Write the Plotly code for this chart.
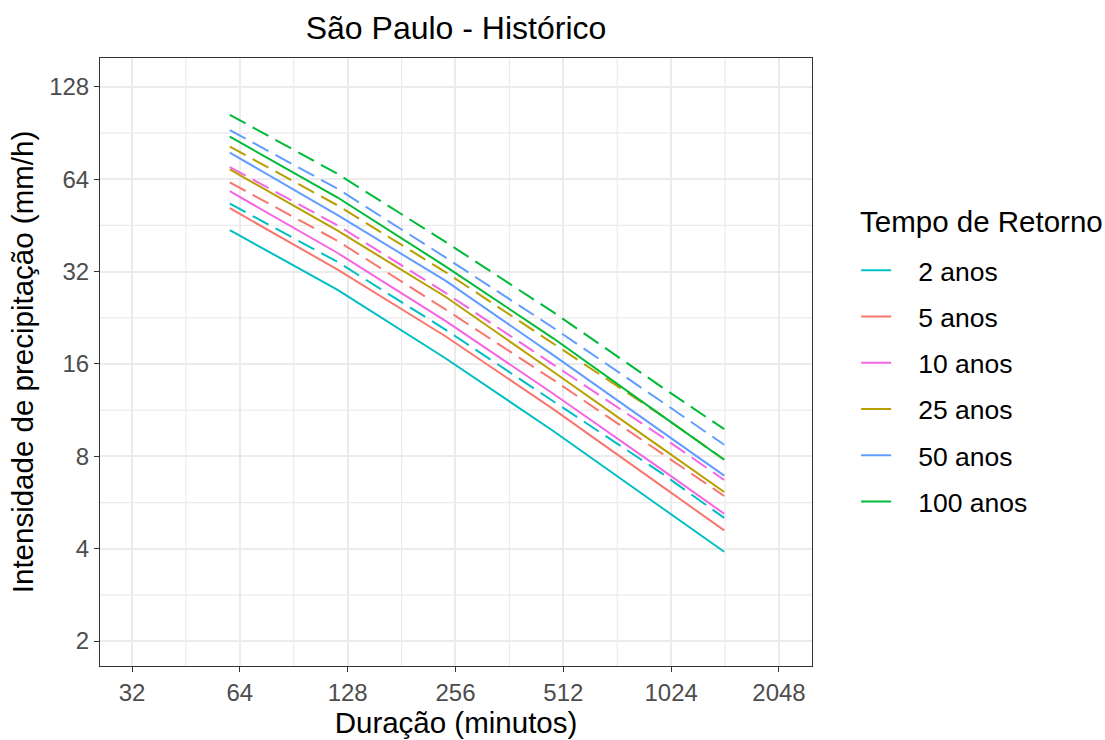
import plotly.graph_objects as go
import numpy as np

durations = [60, 120, 240, 480, 960, 1440]
periods = ["2 anos", "5 anos", "10 anos", "25 anos", "50 anos", "100 anos"]
colors = ["#00BFC4", "#F8766D", "#F564E3", "#B79F00", "#619CFF", "#00BA38"]

# solid lines
solid_2 = [43.7, 27.9, 16.7, 9.68, 5.46, 3.91]
solid_5 = [51.5, 32.5, 19.7, 11.4, 6.42, 4.59]
solid_10 = [58.5, 36.8, 22.1, 12.8, 7.27, 5.20]
solid_25 = [68.9, 43.5, 26.5, 15.1, 8.54, 6.12]
solid_50 = [78.2, 48.9, 29.9, 17.1, 9.67, 6.92]
solid_100 = [88.1, 55.8, 33.3, 19.4, 10.9, 7.80]
# dashed lines
dashed_2 = [53.3, 34.4, 20.7, 12.1, 7.07, 5.04]
dashed_5 = [62.5, 40.3, 24.1, 14.2, 8.21, 5.94]
dashed_10 = [70.1, 45.3, 27.3, 15.9, 9.30, 6.70]
dashed_25 = [81.8, 52.6, 31.9, 18.7, 10.9, 7.81]
dashed_50 = [92.6, 59.6, 35.6, 21.0, 12.1, 8.73]
dashed_100 = [103.8, 66.6, 40.0, 23.6, 13.5, 9.81]

solid = [solid_2, solid_5, solid_10, solid_25, solid_50, solid_100]
dashed = [dashed_2, dashed_5, dashed_10, dashed_25, dashed_50, dashed_100]

x_ticks = [32, 64, 128, 256, 512, 1024, 2048]
y_ticks = [2, 4, 8, 16, 32, 64, 128]

FONT = "Liberation Sans, Arial, sans-serif"
GRID = "#EBEBEB"

x_range = [1.4158, 3.4035]
y_range = [0.2198, 2.2014]

fig = go.Figure()

# minor gridlines (geometric midpoints between major ticks)
x_minor = [np.sqrt(a * b) for a, b in zip(x_ticks[:-1], x_ticks[1:])]
y_minor = [np.sqrt(a * b) for a, b in zip(y_ticks[:-1], y_ticks[1:])]
ylo, yhi = 10 ** y_range[0], 10 ** y_range[1]
xlo, xhi = 10 ** x_range[0], 10 ** x_range[1]
for xv in x_minor:
    fig.add_trace(go.Scatter(x=[xv, xv], y=[ylo, yhi], mode="lines",
                             line=dict(color=GRID, width=1.2),
                             showlegend=False, hoverinfo="skip"))
for yv in y_minor:
    fig.add_trace(go.Scatter(x=[xlo, xhi], y=[yv, yv], mode="lines",
                             line=dict(color=GRID, width=1.2),
                             showlegend=False, hoverinfo="skip"))

PAD = "\u00a0\u00a0\u00a0"
for i, (p, c) in enumerate(zip(periods, colors)):
    fig.add_trace(go.Scatter(x=durations, y=dashed[i], mode="lines",
                             line=dict(color=c, width=2, dash="18px,8px"),
                             legendgroup=p, showlegend=False, name=p))
for i, (p, c) in enumerate(zip(periods, colors)):
    fig.add_trace(go.Scatter(x=durations, y=solid[i], mode="lines",
                             line=dict(color=c, width=2),
                             legendgroup=p, showlegend=True, name=PAD + p))

axis_common = dict(
    type="log",
    showgrid=True, gridcolor=GRID, gridwidth=2,
    zeroline=False,
    showline=True, mirror=True, linecolor="#333333", linewidth=1,
    ticks="outside", ticklen=5, tickcolor="#333333", tickwidth=1,
    tickfont=dict(family=FONT, size=24, color="#4D4D4D"),
)

fig.update_layout(
    width=1105, height=740,
    margin=dict(l=100, r=293, t=58, b=72),
    paper_bgcolor="white", plot_bgcolor="white",
    title=dict(text="São Paulo - Histórico", x=0.5, xref="paper",
               y=1 - 28 / 740, yanchor="middle",
               font=dict(family=FONT, size=32, color="black")),
    xaxis=dict(axis_common, range=x_range, tickvals=x_ticks,
               ticktext=[str(v) for v in x_ticks],
               title=dict(text="Duração (minutos)", standoff=2,
                          font=dict(family=FONT, size=29.5, color="black"))),
    yaxis=dict(axis_common, range=y_range, tickvals=y_ticks,
               ticktext=[str(v) for v in y_ticks],
               title=dict(text="Intensidade de precipitação (mm/h)", standoff=6,
                          font=dict(family=FONT, size=29.5, color="black"))),
    legend=dict(
        x=1.062, xanchor="left", y=0.69, yanchor="top",
        font=dict(family=FONT, size=26.5, color="black"),
        traceorder="grouped", tracegroupgap=8.8,
        bgcolor="rgba(0,0,0,0)",
    ),
    annotations=[dict(text="Tempo de Retorno", xref="paper", yref="paper",
                      x=(858 - 100) / 712, y=(668 - 222) / 610,
                      xanchor="left", yanchor="middle", showarrow=False,
                      font=dict(family=FONT, size=29.5, color="black"))],
)

fig.write_html("out.html")
